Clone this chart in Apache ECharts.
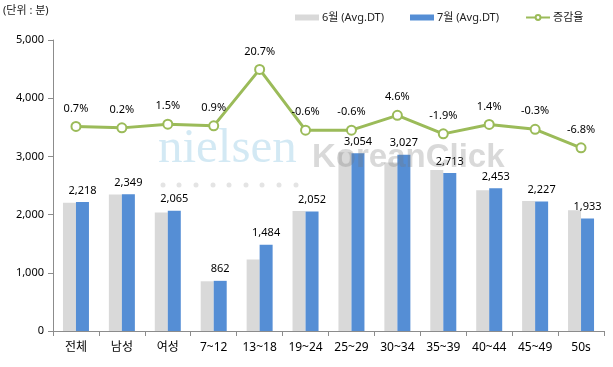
<!DOCTYPE html>
<html>
<head>
<meta charset="utf-8">
<script src="https://cdn.jsdelivr.net/npm/echarts@6/dist/echarts.min.js"></script>
<style>
html,body{margin:0;padding:0;background:#fff;}
#c{width:613px;height:367px;}
</style>
</head>
<body>
<div id="c"></div>
<script>
const categories = ['전체','남성','여성','7~12','13~18','19~24','25~29','30~34','35~39','40~44','45~49','50s'];
const june = [2203, 2344, 2034, 854, 1229, 2064, 3072, 2894, 2766, 2419, 2234, 2074];
const july = [2218, 2349, 2065, 862, 1484, 2052, 3054, 3027, 2713, 2453, 2227, 1933];
const change = [0.7, 0.2, 1.5, 0.9, 20.7, -0.6, -0.6, 4.6, -1.9, 1.4, -0.3, -6.8];
const seriesNames = ['6월 (Avg.DT)', '7월 (Avg.DT)', '증감율'];
const unitText = '(단위 : 분)';

const FONT = '"Noto Sans", "Noto Sans CJK KR", sans-serif';
const chart = echarts.init(document.getElementById('c'));

const dotX = [163, 179, 196, 213, 229, 246, 262, 279, 296];
const graphics = [
  {type:'text', left:3, top:5, style:{text:unitText, fontSize:11, fontFamily:FONT, fill:'#222'}},
  {type:'text', x:158, y:174, z:100, style:{text:'nielsen', fontSize:49, fontFamily:'"Liberation Serif", serif', fill:'rgba(175,215,235,0.55)', textVerticalAlign:'bottom'}},
  {type:'text', x:312, y:174, z:100, style:{text:'KoreanClick', fontSize:33, fontWeight:'bold', fontFamily:'"Liberation Sans", Arial, sans-serif', fill:'rgba(120,120,120,0.28)', textVerticalAlign:'bottom'}}
];
dotX.forEach(x => graphics.push({type:'circle', z:100, shape:{cx:x, cy:185, r:2.5}, style:{fill:'rgba(205,205,205,0.55)'}}));

chart.setOption({
  animation:false,
  textStyle:{fontFamily:FONT},
  grid:{left:53, right:9, top:40, bottom:36, containLabel:false},
  legend:{
    top:7, left:290, itemGap:26, itemWidth:24, itemHeight:6,
    textStyle:{fontSize:11, color:'#222', fontFamily:FONT, padding:[0,0,0,-2]},
    data:[
      {name:seriesNames[0], icon:'rect'},
      {name:seriesNames[1], icon:'rect'},
      {name:seriesNames[2]}
    ]
  },
  xAxis:{
    type:'category', data:categories,
    axisLine:{lineStyle:{color:'#8c8c8c'}},
    axisTick:{show:true, alignWithLabel:false, length:5, lineStyle:{color:'#8c8c8c'}},
    axisLabel:{color:'#000', fontSize:12, margin:11, fontFamily:FONT}
  },
  yAxis:[
    {
      type:'value', min:0, max:5000, interval:1000,
      axisLine:{show:true, lineStyle:{color:'#8c8c8c'}},
      axisTick:{show:true, length:5, lineStyle:{color:'#8c8c8c'}},
      splitLine:{show:false},
      axisLabel:{color:'#000', fontSize:11, margin:9, formatter:v => v.toLocaleString('en-US')}
    },
    {
      type:'value', min:-71, max:31, show:false, splitLine:{show:false}
    }
  ],
  graphic:graphics,
  series:[
    {
      name:seriesNames[0], type:'bar', data:june, barWidth:13, barGap:'0%',
      itemStyle:{color:'#d9d9d9'}
    },
    {
      name:seriesNames[1], type:'bar', data:july, barWidth:13,
      itemStyle:{color:'#558ed5'},
      label:{show:true, position:'top', distance:6, color:'#000', fontSize:11,
        formatter:p => p.value.toLocaleString('en-US')}
    },
    {
      name:seriesNames[2], type:'line', yAxisIndex:1, data:change,
      symbol:'circle', symbolSize:9,
      lineStyle:{color:'#9bbb59', width:3},
      itemStyle:{color:'#fff', borderColor:'#9bbb59', borderWidth:2},
      label:{show:true, position:'top', distance:7, color:'#000', fontSize:11,
        formatter:p => p.value.toFixed(1) + '%'}
    }
  ]
});
</script>
</body>
</html>
